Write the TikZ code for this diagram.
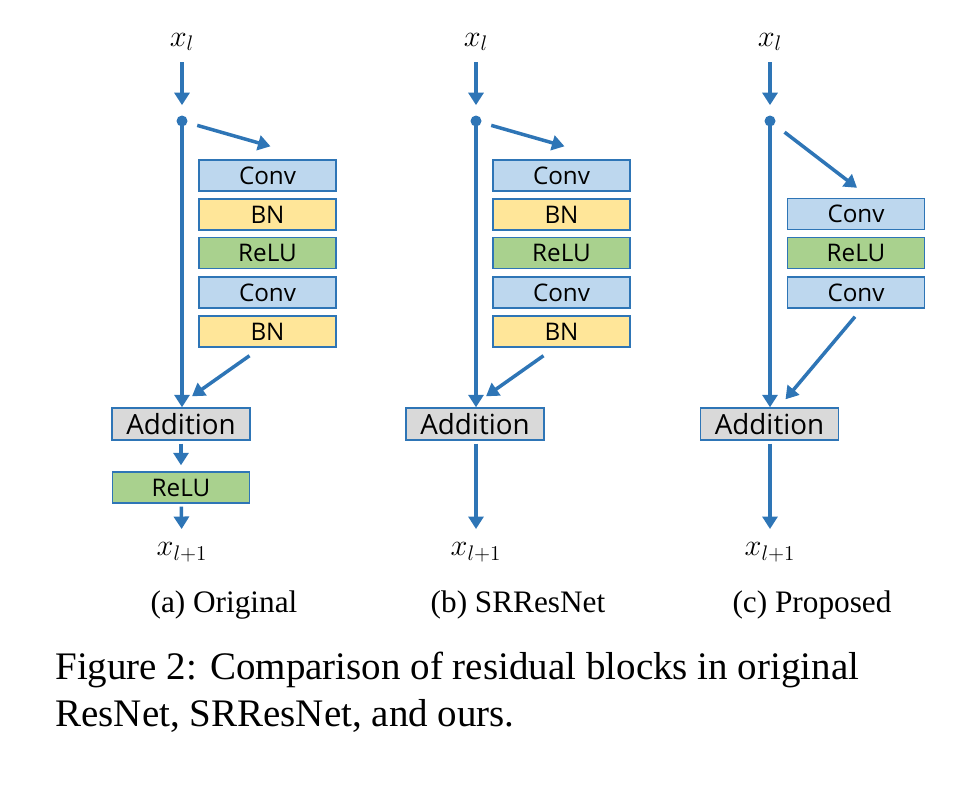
\documentclass[tikz,border=0pt]{standalone}
\usepackage{fontspec}
\setmainfont{Liberation Serif}
\setsansfont{Open Sans}
\usepackage{xcolor}
\usetikzlibrary{arrows.meta, positioning, calc}

\definecolor{lineblue}{RGB}{46,117,182}
\definecolor{convblue}{RGB}{189,215,238}
\definecolor{bnyellow}{RGB}{255,230,153}
\definecolor{relugreen}{RGB}{169,209,142}
\definecolor{addgray}{RGB}{217,217,217}

\begin{document}
\begin{tikzpicture}[x=0.02cm, y=-0.02cm,
    blk/.style={rectangle, draw=lineblue, line width=0.8pt, minimum width=2.74cm, minimum height=0.62cm, inner sep=0pt, font=\sffamily\fontsize{13.8}{13.8}\selectfont},
    conv/.style={blk, fill=convblue},
    bn/.style={blk, fill=bnyellow},
    relu/.style={blk, fill=relugreen},
    add/.style={blk, fill=addgray, minimum width=2.76cm, minimum height=0.64cm, font=\sffamily\fontsize{15.8}{15.8}\selectfont},
    var/.style={inner sep=0pt, font=\fontsize{18}{18}\selectfont},
    dot/.style={circle, fill=lineblue, inner sep=0pt, minimum size=0.22cm},
    sub/.style={font=\fontsize{17.8}{17.8}\selectfont},
    ar/.style={-{Triangle[length=0.25cm, width=0.3cm]}, line width=2pt, draw=lineblue}]

\useasboundingbox (0,0) rectangle (974,792);

% (a) Original
\node[var] (a-x) at (182,42) {$x_l$};
\node[dot] (a-dot) at (182,121) {};
\node[conv] (a-conv1) at (267.5,175.5) {Conv};
\node[bn] (a-bn1) at (267.5,214.5) {BN};
\node[relu] (a-relu1) at (267.5,253) {ReLU};
\node[conv] (a-conv2) at (267.5,292.5) {Conv};
\node[bn] (a-bn2) at (267.5,331.5) {BN};
\node[add] (a-add) at (181,424) {Addition};
\node[relu] (a-relu2) at (181,487.5) {ReLU};
\node[var] (a-y) at (182,552) {$x_{l+1}$};
\coordinate (a-in) at ($(a-conv1.north)+(3,-13)$);
\coordinate (a-from) at ($(a-bn2.south)+(-18,8)$);
\coordinate (a-to) at ($(a-add.north)+(11,-11)$);

\draw[ar, shorten <=0.22cm, shorten >=0.2cm] (a-x) -- (a-dot);
\draw[ar, shorten <=0.2cm] (a-dot) -- (a-in);
\draw[ar] (a-dot.center) -- (a-dot |- a-add.north);
\draw[ar] (a-from) -- (a-to);
\draw[ar, shorten <=0.06cm, shorten >=0.12cm] (a-add) -- (a-relu2);
\draw[ar, shorten <=0.06cm, shorten >=0.26cm] (a-relu2) -- (a-y);

% (b) SRResNet
\node[var] (b-x) at (476,42) {$x_l$};
\node[dot] (b-dot) at (476,121) {};
\node[conv] (b-conv1) at (561.5,175.5) {Conv};
\node[bn] (b-bn1) at (561.5,214.5) {BN};
\node[relu] (b-relu1) at (561.5,253) {ReLU};
\node[conv] (b-conv2) at (561.5,292.5) {Conv};
\node[bn] (b-bn2) at (561.5,331.5) {BN};
\node[add] (b-add) at (475,424) {Addition};
\node[var] (b-y) at (476,552) {$x_{l+1}$};
\coordinate (b-in) at ($(b-conv1.north)+(3,-13)$);
\coordinate (b-from) at ($(b-bn2.south)+(-18,8)$);
\coordinate (b-to) at ($(b-add.north)+(11,-11)$);

\draw[ar, shorten <=0.22cm, shorten >=0.2cm] (b-x) -- (b-dot);
\draw[ar, shorten <=0.2cm] (b-dot) -- (b-in);
\draw[ar] (b-dot.center) -- (b-dot |- b-add.north);
\draw[ar] (b-from) -- (b-to);
\draw[ar, shorten <=0.06cm, shorten >=0.26cm] (b-dot |- b-add.south) -- (b-y);

% (c) Proposed
\node[var] (c-x) at (770,42) {$x_l$};
\node[dot] (c-dot) at (770,121) {};
\node[conv] (c-conv1) at (856,214) {Conv};
\node[relu] (c-relu1) at (856,253) {ReLU};
\node[conv] (c-conv2) at (856,292.5) {Conv};
\node[add] (c-add) at (769.5,424) {Addition};
\node[var] (c-y) at (770,552) {$x_{l+1}$};
\coordinate (c-in) at ($(c-conv1.north)+(1,-10)$);
\coordinate (c-from) at ($(c-conv2.south)+(-1,8)$);
\coordinate (c-to) at ($(c-add.north)+(16,-8)$);

\draw[ar, shorten <=0.22cm, shorten >=0.2cm] (c-x) -- (c-dot);
\draw[ar, shorten <=0.25cm] (c-dot) -- (c-in);
\draw[ar] (c-dot.center) -- (c-dot |- c-add.north);
\draw[ar] (c-from) -- (c-to);
\draw[ar, shorten <=0.06cm, shorten >=0.26cm] (c-dot |- c-add.south) -- (c-y);

% sub-captions and caption
\node[sub] (a-cap) at (224,605) {(a) Original};
\node[sub] (b-cap) at (518,605) {(b) SRResNet};
\node[sub] (c-cap) at (812,605) {(c) Proposed};
\node[anchor=north west, align=left, inner sep=0pt, font=\fontsize{22.2}{26.7}\selectfont] (fig-cap) at (55,652)
  {Figure 2: Comparison of residual blocks in original\\ResNet, SRResNet, and ours.};

\end{tikzpicture}
\end{document}
